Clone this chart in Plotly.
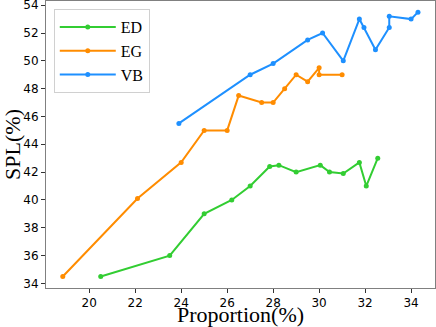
import plotly.graph_objects as go

# --- Data ---
ed_x = [20.5, 23.5, 25.0, 26.2, 27.0, 27.85, 28.25, 29.0, 30.05, 30.45, 31.05, 31.75, 32.05, 32.55]
ed_y = [34.5, 36.0, 39.0, 40.0, 41.0, 42.4, 42.5, 42.0, 42.5, 42.0, 41.9, 42.7, 41.0, 43.0]

eg_x = [18.85, 22.1, 24.0, 25.0, 26.0, 26.5, 27.5, 28.0, 28.5, 29.0, 29.5, 30.0, 30.0, 31.0]
eg_y = [34.5, 40.1, 42.7, 45.0, 45.0, 47.5, 47.0, 47.0, 48.0, 49.0, 48.5, 49.5, 49.0, 49.0]

vb_x = [23.9, 27.0, 28.0, 29.5, 30.15, 31.05, 31.75, 31.95, 32.45, 33.05, 33.05, 34.0, 34.3]
vb_y = [45.5, 49.0, 49.8, 51.5, 52.0, 50.0, 53.0, 52.4, 50.8, 52.4, 53.2, 53.0, 53.5]

x_ticks = [20, 22, 24, 26, 28, 30, 32, 34]
y_ticks = [34, 36, 38, 40, 42, 44, 46, 48, 50, 52, 54]

series = [
    ("ED", ed_x, ed_y, "#32cd32"),
    ("EG", eg_x, eg_y, "#ff8c00"),
    ("VB", vb_x, vb_y, "#1e90ff"),
]

fig = go.Figure()
for name, xs, ys, col in series:
    fig.add_trace(go.Scatter(
        x=xs, y=ys, name=name, mode="lines+markers",
        line=dict(color=col, width=2), marker=dict(color=col, size=5),
    ))

axis_common = dict(
    showgrid=False, zeroline=False, showline=True, mirror=True,
    linecolor="#808080", linewidth=1, automargin=False,
    ticks="outside", ticklen=4, tickcolor="#333333",
    ticklabeloverflow="allow",
    tickfont=dict(family="DejaVu Sans", size=12, color="black"),
)

fig.update_xaxes(
    range=[18.12, 35.04], tickvals=x_ticks,
    title=dict(text="Proportion(%)", standoff=1,
               font=dict(family="Liberation Serif", size=22, color="black")),
    **axis_common,
)
fig.update_yaxes(
    range=[33.67, 54.3], tickvals=y_ticks,
    title=dict(text="SPL(%)", standoff=3,
               font=dict(family="Liberation Serif", size=22, color="black")),
    **axis_common,
)

fig.update_layout(
    width=436, height=327,
    margin=dict(l=46, r=1, t=1, b=39),
    plot_bgcolor="white", paper_bgcolor="white",
    legend=dict(
        x=0.02, y=0.972, xanchor="left", yanchor="top",
        bordercolor="#d0d0d0", borderwidth=1, bgcolor="white",
        font=dict(family="Liberation Serif", size=16, color="black"),
        itemwidth=56, tracegroupgap=0,
    ),
    showlegend=True,
)

# page body has a default 8px margin; drop it so the figure sits at 0,0
fig.write_html("out.html", config={"displayModeBar": False},
               post_script="document.body.style.margin='0';")
